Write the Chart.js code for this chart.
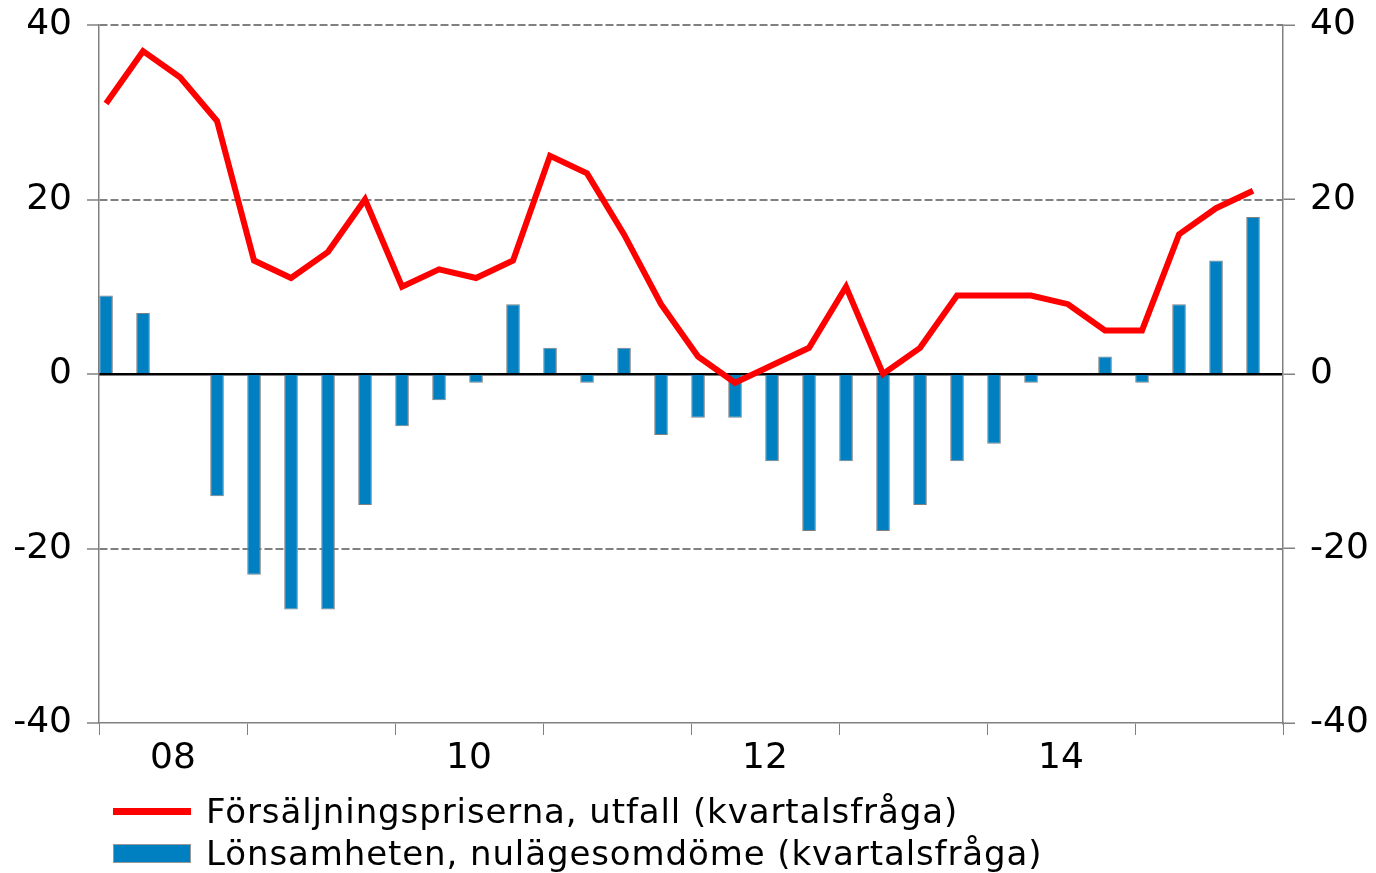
<!DOCTYPE html>
<html lang="sv">
<head>
<meta charset="UTF-8">
<title>Försäljningspriser och lönsamhet</title>
<script src="https://cdn.jsdelivr.net/npm/chart.js"></script>
<style>
  body { margin: 0; background: #fff; font-family: "DejaVu Sans", Verdana, sans-serif; }
  #wrap { position: relative; width: 1376px; height: 873px; }
  #legend { position: absolute; left: 113px; top: 790px; font-size: 34px; letter-spacing: 0.9px; color: #000; }
  .item { display: flex; align-items: center; height: 42px; white-space: nowrap; }
  .swatch { width: 78px; margin-right: 15px; box-sizing: border-box; }
</style>
</head>
<body>
<div id="wrap">
  <canvas id="chart" width="1376" height="873"></canvas>
  <div id="legend"></div>
</div>
<script>
// kvartal 2008 K1 - 2015 K4
const kvartal = [
  '2008K1','2008K2','2008K3','2008K4','2009K1','2009K2','2009K3','2009K4',
  '2010K1','2010K2','2010K3','2010K4','2011K1','2011K2','2011K3','2011K4',
  '2012K1','2012K2','2012K3','2012K4','2013K1','2013K2','2013K3','2013K4',
  '2014K1','2014K2','2014K3','2014K4','2015K1','2015K2','2015K3','2015K4'
];
const forsaljningspriser = [
  31, 37, 34, 29, 13, 11, 14, 20, 10, 12, 11, 13, 25, 23, 16, 8,
  2, -1, 1, 3, 10, 0, 3, 9, 9, 9, 8, 5, 5, 16, 19, 21
];
const lonsamhet = [
  9, 7, null, -14, -23, -27, -27, -15, -6, -3, -1, 8, 3, -1, 3, -7,
  -5, -5, -10, -18, -10, -18, -15, -10, -8, -1, null, 2, -1, 8, 13, 18
];
const arsEtiketter = ['08', '10', '12', '14'];
const yTicks = [-40, -20, 0, 20, 40];

const labelPris = 'Försäljningspriserna, utfall (kvartalsfråga)';
const labelLons = 'Lönsamheten, nulägesomdöme (kvartalsfråga)';

const ROD = '#ff0000';
const BLA = '#0080c0';
const GRA = '#808080';

// punkterna ligger lite efter kvartalets början
const toXY = arr => arr.map((v, i) => ({ x: i + 0.19, y: v }));

const tickFont = { family: '"DejaVu Sans", Verdana, sans-serif', size: 36 };

// y-axlarna: fast bredd, ingen extra luft över/under
const fitY = w => s => { s.width = w; s.paddingTop = 0; s.paddingBottom = 0; };

new Chart(document.getElementById('chart'), {
  type: 'bar',
  data: {
    datasets: [
      {
        type: 'line',
        label: labelPris,
        data: toXY(forsaljningspriser),
        borderColor: ROD,
        borderWidth: 6,
        pointRadius: 0,
        tension: 0,
        order: 0
      },
      {
        type: 'bar',
        label: labelLons,
        data: toXY(lonsamhet),
        backgroundColor: BLA,
        borderColor: GRA,
        borderWidth: 1,
        barPercentage: 0.46,
        categoryPercentage: 0.8,
        order: 1
      }
    ]
  },
  options: {
    responsive: false,
    animation: false,
    layout: { padding: { top: 25, left: 0, right: 0, bottom: 0 } },
    plugins: { legend: { display: false }, tooltip: { enabled: false } },
    scales: {
      x: {
        type: 'linear',
        offset: false,
        min: 0,
        max: kvartal.length,
        afterBuildTicks: s => {
          s.ticks = [];
          for (let v = 0; v <= kvartal.length; v += 2) s.ticks.push({ value: v });
        },
        afterFit: s => { s.height = 150; s.paddingLeft = 0; s.paddingRight = 0; },
        ticks: {
          autoSkip: false,
          maxRotation: 0,
          padding: 2,
          color: '#000',
          font: tickFont,
          callback: v => (v % 8 === 2 ? arsEtiketter[(v - 2) / 8] : '')
        },
        grid: {
          offset: false,
          drawOnChartArea: false,
          tickLength: 12,
          tickColor: c => (c.tick && c.tick.value % 4 === 0 ? GRA : 'rgba(0,0,0,0)')
        },
        border: { color: GRA, width: 1.5 }
      },
      y: {
        position: 'left',
        min: -40,
        max: 40,
        afterBuildTicks: s => { s.ticks = yTicks.map(v => ({ value: v })); },
        afterFit: fitY(99),
        ticks: { color: '#000', font: tickFont, padding: 15 },
        grid: {
          color: c => (c.tick && (c.tick.value === 0 || c.tick.value === -40) ? 'rgba(0,0,0,0)' : GRA),
          lineWidth: 2,
          tickLength: 12,
          tickColor: GRA,
          tickWidth: 1.5,
          tickBorderDash: []
        },
        border: { color: GRA, width: 1.5, dash: [8, 3] }
      },
      y2: {
        position: 'right',
        min: -40,
        max: 40,
        afterBuildTicks: s => { s.ticks = yTicks.map(v => ({ value: v })); },
        afterFit: fitY(93),
        ticks: { color: '#000', font: tickFont, padding: 15 },
        grid: {
          color: c => (c.tick && c.tick.value === 0 ? '#000' : 'rgba(0,0,0,0)'),
          lineWidth: 2.5,
          tickLength: 12,
          tickColor: GRA,
          tickWidth: 1.5
        },
        border: { color: GRA, width: 1.5 }
      }
    }
  }
});

// förklaring under diagrammet
const legend = document.getElementById('legend');
legend.innerHTML =
  '<div class="item"><div class="swatch" style="height:7px;background:' + ROD + '"></div>' + labelPris + '</div>' +
  '<div class="item"><div class="swatch" style="height:19px;background:' + BLA + ';border:1.5px solid #999"></div>' + labelLons + '</div>';
</script>
</body>
</html>
